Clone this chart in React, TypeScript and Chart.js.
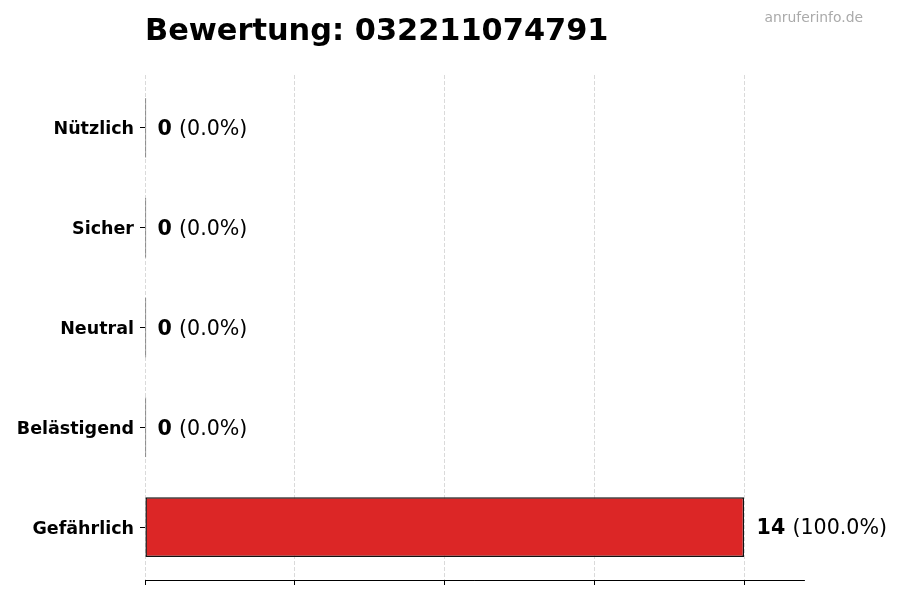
import { useEffect, useRef } from "react";
import { Chart, ChartConfiguration, Plugin } from "chart.js/auto";

const categories = ["Nützlich", "Sicher", "Neutral", "Belästigend", "Gefährlich"];
const counts = [0, 0, 0, 0, 14];
const barColors = ["#16a34a", "#2563eb", "#6b7280", "#f59e0b", "#dc2626"];
const xTicks = [0, 3.5, 7, 10.5, 14];
const titleText = "Bewertung: 032211074791";
const watermark = "anruferinfo.de";

const FONT = "'DejaVu Sans', sans-serif";

// title + watermark, placed like the matplotlib original
const headerPlugin: Plugin = {
  id: "header",
  afterDraw(chart) {
    const { ctx, chartArea } = chart;
    ctx.save();
    ctx.fillStyle = "#000";
    ctx.font = `bold 30.4px ${FONT}`;
    ctx.textAlign = "left";
    ctx.textBaseline = "alphabetic";
    ctx.fillText(titleText, chartArea.left, 40);
    ctx.fillStyle = "#aaaaaa";
    ctx.font = `13.9px ${FONT}`;
    ctx.textAlign = "right";
    ctx.fillText(watermark, 863, 22);
    ctx.restore();
  },
};

// "14 (100.0%)" style labels next to each bar
const valueLabels: Plugin = {
  id: "valueLabels",
  afterDatasetsDraw(chart) {
    const { ctx } = chart;
    const xScale = chart.scales.x;
    const total = counts.reduce((a, b) => a + b, 0);
    const meta = chart.getDatasetMeta(0);
    ctx.save();
    ctx.textBaseline = "middle";
    ctx.textAlign = "left";
    ctx.fillStyle = "#000";
    meta.data.forEach((bar, i) => {
      const v = counts[i];
      const x = xScale.getPixelForValue(v) + 12.5;
      const y = bar.y + 2;
      const pct = total ? ((v / total) * 100).toFixed(1) : "0.0";
      ctx.font = `bold 20.6px ${FONT}`;
      const bold = String(v);
      ctx.fillText(bold, x, y);
      const w = ctx.measureText(bold + " ").width;
      ctx.font = `20.6px ${FONT}`;
      ctx.fillText(`(${pct}%)`, x + w, y);
    });
    ctx.restore();
  },
};

export default function App() {
  const chartRef = useRef<HTMLCanvasElement>(null);
  const chartInstance = useRef<Chart | null>(null);

  useEffect(() => {
    if (!chartRef.current) return;
    if (chartInstance.current) chartInstance.current.destroy();
    const ctx = chartRef.current.getContext("2d");
    if (!ctx) return;

    const config: ChartConfiguration = {
      type: "bar",
      data: {
        datasets: [{
          data: counts.map((v, i) => ({ x: v, y: i })) as any,
          backgroundColor: counts.map((v, i) => (v === 0 ? "#111" : barColors[i])),
          borderColor: "#111",
          borderWidth: 1.5,
          borderSkipped: false,
          barPercentage: 0.6,
          categoryPercentage: 1,
          minBarLength: 1.2,
        }],
      },
      options: {
        indexAxis: "y",
        animation: false,
        responsive: true,
        maintainAspectRatio: false,
        layout: { padding: { top: 75, right: 96, left: 0, bottom: 0 } },
        plugins: {
          legend: { display: false },
          tooltip: { enabled: false },
          title: { display: false },
        },
        scales: {
          x: {
            type: "linear",
            min: 0,
            max: 15.4,
            z: 1,
            afterBuildTicks: (scale) => {
              scale.ticks = xTicks.map((v) => ({ value: v }));
            },
            afterFit: (scale) => {
              scale.height = 20;
            },
            ticks: { display: false },
            grid: {
              color: "rgba(150,150,150,0.45)",
              lineWidth: 0.8,
              drawTicks: true,
              tickLength: 5,
              tickColor: "#000",
              tickWidth: 1,
            },
            border: { display: true, color: "#000", width: 1, dash: [4, 2] },
          },
          y: {
            type: "linear",
            min: -0.53,
            max: 4.53,
            reverse: true,
            offset: false,
            afterBuildTicks: (scale) => {
              scale.ticks = categories.map((_, i) => ({ value: i }));
            },
            afterFit: (scale) => {
              scale.width = 145;
            },
            ticks: {
              color: "#000",
              padding: 6,
              labelOffset: 2,
              font: { family: FONT, size: 17.5, weight: "bold" },
              callback: (v) => categories[Number(v)] ?? "",
            },
            grid: {
              offset: false,
              drawOnChartArea: false,
              drawTicks: true,
              tickLength: 5,
              tickColor: "#000",
              tickWidth: 1,
            },
            border: { display: false },
          },
        },
      },
      plugins: [valueLabels, headerPlugin],
    };

    chartInstance.current = new Chart(ctx, config);
    return () => {
      if (chartInstance.current) chartInstance.current.destroy();
    };
  }, []);

  return (
    <div style={{ position: "absolute", left: 0, top: 0, width: 900, height: 600, background: "#fff" }}>
      <canvas ref={chartRef}></canvas>
    </div>
  );
}
